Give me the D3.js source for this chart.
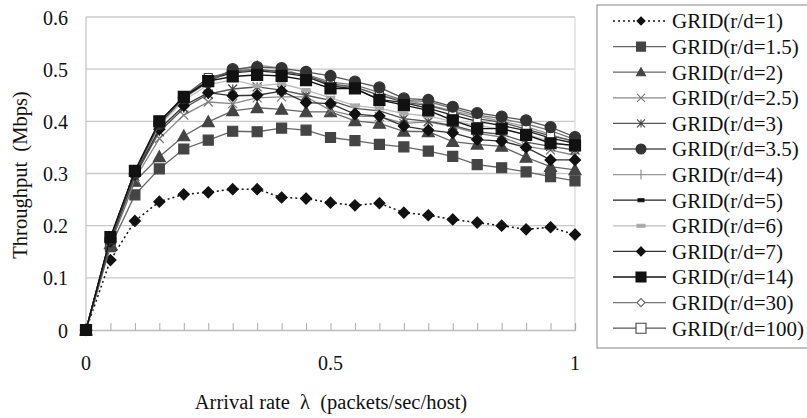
<!DOCTYPE html>
<html><head><meta charset="utf-8">
<script src="https://cdn.jsdelivr.net/npm/d3@7"></script>
<style>
body{margin:0;background:#fff;}
svg{display:block;}
text{font-family:"Liberation Serif","Times New Roman",serif;fill:#111;white-space:pre;}
</style></head>
<body><svg id="c" width="807" height="418"></svg>
<script>
const xValues = [0,0.05,0.1,0.15,0.2,0.25,0.3,0.35,0.4,0.45,0.5,0.55,0.6,0.65,0.7,0.75,0.8,0.85,0.9,0.95,1];
const seriesNames = ["GRID(r/d=1)","GRID(r/d=1.5)","GRID(r/d=2)","GRID(r/d=2.5)","GRID(r/d=3)","GRID(r/d=3.5)","GRID(r/d=4)","GRID(r/d=5)","GRID(r/d=6)","GRID(r/d=7)","GRID(r/d=14)","GRID(r/d=30)","GRID(r/d=100)"];
const rd1   = [0,0.134,0.209,0.246,0.260,0.264,0.270,0.270,0.254,0.252,0.244,0.239,0.243,0.225,0.220,0.212,0.206,0.200,0.193,0.197,0.183];
const rd1_5 = [0,0.160,0.259,0.309,0.347,0.364,0.381,0.380,0.387,0.383,0.369,0.363,0.356,0.351,0.343,0.333,0.317,0.311,0.303,0.294,0.286];
const rd2   = [0,0.165,0.285,0.332,0.372,0.399,0.420,0.426,0.423,0.418,0.418,0.401,0.396,0.381,0.380,0.361,0.356,0.352,0.331,0.313,0.307];
const rd2_5 = [0,0.170,0.290,0.367,0.412,0.437,0.434,0.445,0.447,0.447,0.421,0.410,0.409,0.396,0.399,0.390,0.377,0.370,0.352,0.345,0.335];
const rd3   = [0,0.172,0.295,0.380,0.425,0.452,0.462,0.466,0.460,0.450,0.440,0.425,0.420,0.405,0.400,0.392,0.380,0.375,0.360,0.352,0.345];
const rd3_5 = [0,0.175,0.300,0.395,0.445,0.475,0.500,0.504,0.502,0.495,0.487,0.476,0.465,0.444,0.441,0.428,0.416,0.409,0.402,0.389,0.370];
const rd4   = [0,0.176,0.302,0.393,0.447,0.478,0.496,0.508,0.502,0.485,0.470,0.465,0.450,0.440,0.432,0.420,0.410,0.400,0.390,0.375,0.360];
const rd5   = [0,0.176,0.303,0.395,0.446,0.480,0.493,0.497,0.493,0.486,0.468,0.462,0.442,0.436,0.425,0.412,0.400,0.392,0.382,0.368,0.358];
const rd6   = [0,0.175,0.300,0.392,0.440,0.470,0.480,0.468,0.472,0.460,0.445,0.430,0.425,0.415,0.410,0.400,0.392,0.385,0.375,0.362,0.350];
const rd7   = [0,0.170,0.298,0.385,0.430,0.455,0.449,0.450,0.458,0.436,0.434,0.414,0.410,0.391,0.383,0.378,0.365,0.362,0.350,0.326,0.326];
const rd14  = [0,0.178,0.305,0.400,0.447,0.477,0.486,0.489,0.487,0.479,0.463,0.463,0.441,0.431,0.421,0.402,0.386,0.386,0.374,0.358,0.354];
const rd30  = [0,0.176,0.303,0.397,0.446,0.480,0.497,0.500,0.495,0.490,0.475,0.470,0.455,0.440,0.438,0.425,0.412,0.405,0.395,0.382,0.365];
const rd100 = [0,0.177,0.304,0.398,0.448,0.484,0.495,0.498,0.496,0.488,0.472,0.466,0.450,0.437,0.430,0.418,0.405,0.398,0.385,0.372,0.362];
const yTicks = [0,0.1,0.2,0.3,0.4,0.5,0.6];
const xTickLabels = [0,0.5,1];

const seriesValues = [rd1,rd1_5,rd2,rd2_5,rd3,rd3_5,rd4,rd5,rd6,rd7,rd14,rd30,rd100];
const styles = [
 {line:"#111",dash:"2,3",w:1.5,m:"diamond",fill:"#111",stroke:"#111",size:5.5,ls:4},
 {line:"#666",w:1.3,m:"square",fill:"#444",stroke:"#444",size:5,ls:4.5},
 {line:"#666",w:1.3,m:"triangle",fill:"#444",stroke:"#444",size:6,ls:4.5},
 {line:"#888",w:1.3,m:"x",fill:"none",stroke:"#777",size:4.5,ls:4},
 {line:"#555",w:1.3,m:"asterisk",fill:"none",stroke:"#444",size:4.5,ls:4},
 {line:"#555",w:1.3,m:"circle",fill:"#333",stroke:"#333",size:5.5,ls:5},
 {line:"#999",w:1.3,m:"pipe",fill:"none",stroke:"#888",size:5,ls:5},
 {line:"#222",w:1.3,m:"dash",fill:"#111",stroke:"#111",size:3,ls:3},
 {line:"#bbb",w:1.3,m:"dash",fill:"#aaa",stroke:"#aaa",size:4,ls:4},
 {line:"#333",w:1.3,m:"diamond",fill:"#111",stroke:"#111",size:5.5,ls:4.5},
 {line:"#111",w:1.4,m:"square",fill:"#111",stroke:"#111",size:5.5,ls:5},
 {line:"#777",w:1.3,m:"diamond",fill:"#fff",stroke:"#666",size:4,ls:4},
 {line:"#555",w:1.3,m:"square",fill:"#fff",stroke:"#444",size:4,ls:5}
];
// drawing order (later on top)
const drawOrder = [0,1,2,3,4,6,7,8,9,11,12,5,10];

function markerPath(m,s){
  switch(m){
    case "diamond": return `M0,${-s}L${s},0L0,${s}L${-s},0Z`;
    case "square": return `M${-s},${-s}H${s}V${s}H${-s}Z`;
    case "triangle": return `M0,${-s}L${s},${s*0.8}L${-s},${s*0.8}Z`;
    case "x": return `M${-s},${-s}L${s},${s}M${-s},${s}L${s},${-s}`;
    case "asterisk": return `M${-s},${-s}L${s},${s}M${-s},${s}L${s},${-s}M0,${-s}V${s}`;
    case "circle": return d3.symbol(d3.symbolCircle, Math.PI*s*s)();
    case "pipe": return `M0,${-s}V${s}`;
    case "dash": return `M${-s},-1.5H${s}V1.5H${-s}Z`;
  }
}

const svg = d3.select("#c");
const x = d3.scaleLinear().domain([0,1]).range([86,575]);
const y = d3.scaleLinear().domain([0,0.6]).range([330,17]);

// gridlines
svg.append("g").selectAll("line").data(yTicks.filter(d=>d>0)).join("line")
  .attr("x1",x(0)).attr("x2",x(1)).attr("y1",d=>y(d)).attr("y2",d=>y(d))
  .attr("stroke","#c8c8c8").attr("stroke-width",1.3);
svg.append("line").attr("x1",x(0)).attr("x2",x(0)).attr("y1",y(0.6)).attr("y2",y(0)).attr("stroke","#c8c8c8").attr("stroke-width",1.3);
svg.append("line").attr("x1",x(1)).attr("x2",x(1)).attr("y1",y(0.6)).attr("y2",y(0)).attr("stroke","#dcdcdc").attr("stroke-width",1.3);

// x axis
const xAxis = d3.axisTop(x).tickValues(xValues).tickSize(7).tickFormat("");
const gx = svg.append("g").attr("transform",`translate(0,${y(0)})`).call(xAxis);
gx.select(".domain").attr("stroke","#bbb").attr("stroke-width",1.3);
gx.selectAll(".tick line").attr("stroke","#aaa");
svg.append("g").selectAll("text").data(xTickLabels).join("text")
  .attr("x",d=>x(d)).attr("y",370).attr("text-anchor","middle").attr("font-size",20).text(d=>d);

// y axis labels
const yAxis = d3.axisLeft(y).tickValues(yTicks).tickSize(0).tickPadding(0).tickFormat(d=>d===0?"0":d3.format(".1f")(d));
const gy = svg.append("g").attr("transform",`translate(68,0)`).call(yAxis);
gy.select(".domain").remove();
gy.selectAll("text").attr("font-size",20).attr("font-family","Liberation Serif").attr("fill","#111").attr("dy","0.35em");

// titles
svg.append("text").attr("x",331).attr("y",409).attr("text-anchor","middle").attr("font-size",20.5)
  .text("Arrival rate  λ  (packets/sec/host)");
svg.append("text").attr("transform","translate(27,175) rotate(-90)").attr("text-anchor","middle").attr("font-size",20.5)
  .text("Throughput  (Mbps)");

// series
const line = d3.line().x((d,i)=>x(xValues[i])).y(d=>y(d));
const gs = svg.append("g");
drawOrder.forEach(k=>{
  const vals = seriesValues[k], st = styles[k];
  gs.append("path").attr("d",line(vals)).attr("fill","none").attr("stroke",st.line)
    .attr("stroke-width",st.w).attr("stroke-dasharray",st.dash||null);
  gs.append("g").selectAll("path").data(vals).join("path")
    .attr("transform",(d,i)=>`translate(${x(xValues[i])},${y(d)})`)
    .attr("d",markerPath(st.m,st.size)).attr("fill",st.fill).attr("stroke",st.stroke).attr("stroke-width",1.2);
});

// legend
const lg = svg.append("g");
lg.append("rect").attr("x",597).attr("y",5).attr("width",220).attr("height",343).attr("fill","#fff").attr("stroke","#999").attr("stroke-width",1.2);
seriesNames.forEach((name,k)=>{
  const st = styles[k], cy = 21 + k*25.6;
  lg.append("line").attr("x1",613).attr("x2",666).attr("y1",cy).attr("y2",cy).attr("stroke",st.line)
    .attr("stroke-width",st.w).attr("stroke-dasharray",st.dash||null);
  lg.append("path").attr("transform",`translate(641,${cy})`).attr("d",markerPath(st.m,st.ls))
    .attr("fill",st.fill).attr("stroke",st.stroke).attr("stroke-width",1.1);
  lg.append("text").attr("x",672).attr("y",cy).attr("dy","0.35em").attr("font-size",21).text(name);
});
</script></body></html>
